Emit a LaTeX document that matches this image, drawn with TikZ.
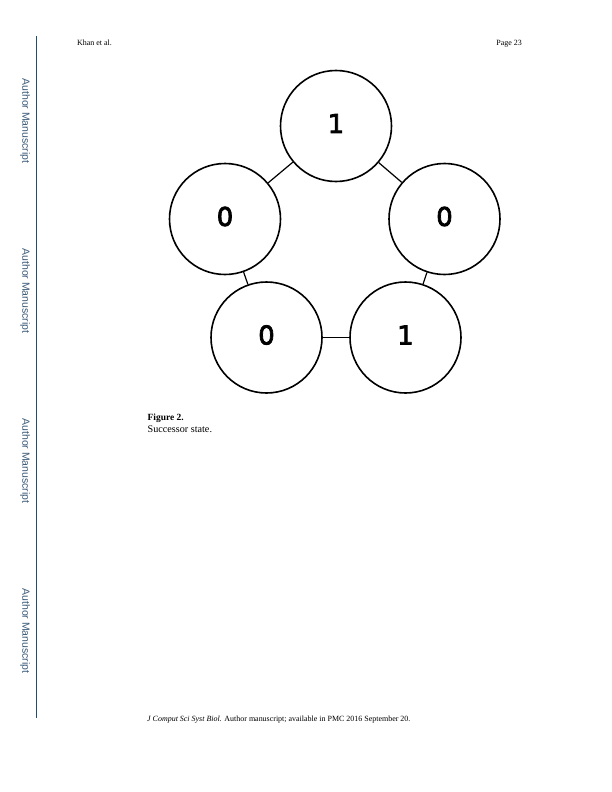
\documentclass[tikz,border=0pt]{standalone}
\usepackage{fontspec}
\setmainfont{Liberation Serif}
\newfontfamily\armfont{Liberation Sans}
\newfontfamily\digfont[FakeBold=3]{DejaVu Sans}
\definecolor{bar}{HTML}{1F4E6E}
\definecolor{sidetext}{HTML}{3A5A78}
\newcommand{\dig}[1]{\raisebox{2.5bp}[\height][\depth]{#1}}
\begin{document}
\begin{tikzpicture}[x=1bp,y=-1bp,
  state/.style={circle,draw,line width=1.6bp,minimum size=111bp,inner sep=0pt,font=\digfont\fontsize{26}{30}\selectfont},
  link/.style={line width=1.2bp},
  side/.style={rotate=-90,font=\armfont\fontsize{10.5}{12}\selectfont,text=sidetext},
  small/.style={font=\fontsize{8}{9}\selectfont,inner sep=0pt}]
\useasboundingbox (0,0) rectangle (612,792);
\fill[white] (0,0) rectangle (612,792);
% left bar
\draw[bar,line width=1bp] (36,36) coordinate (bt) -- (36,718) coordinate (bb);
\node[side] (s1) at (25,121) {Author Manuscript};
\node[side] (s2) at (25,291) {Author Manuscript};
\node[side] (s3) at (25,461) {Author Manuscript};
\node[side] (s4) at (25,631) {Author Manuscript};
% header
\node[small,anchor=base west] (hl) at (77,46) {Khan et al.};
\node[small,anchor=base east] (hr) at (522,46) {Page 23};
% states
\node[state] (a) at (336,126) {\dig{1}};
\node[state] (b) at (444.5,219) {\dig{0}};
\node[state] (c) at (405.5,337.5) {\dig{1}};
\node[state] (d) at (266.5,337.5) {\dig{0}};
\node[state] (e) at (225,219) {\dig{0}};
\draw[link] (a) -- (b);
\draw[link] (b) -- (c);
\draw[link] (c) -- (d);
\draw[link] (d) -- (e);
\draw[link] (e) -- (a);
% caption
\node[anchor=base west,inner sep=0pt,font=\bfseries\fontsize{9.5}{11}\selectfont] (cap1) at (147.5,420) {Figure 2.};
\node[anchor=base west,inner sep=0pt,font=\fontsize{10.2}{12}\selectfont] (cap2) at (147.5,432) {Successor state.};
% footer
\node[small,anchor=base west] (ft) at (147,721) {\textit{J Comput Sci Syst Biol.} Author manuscript; available in PMC 2016 September 20.};
\end{tikzpicture}
\end{document}
